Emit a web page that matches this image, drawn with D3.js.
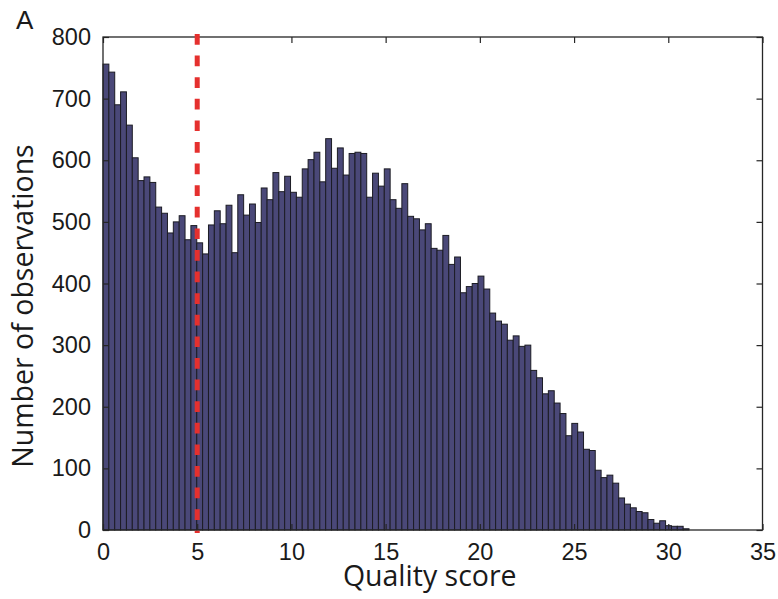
<!DOCTYPE html>
<html>
<head>
<meta charset="utf-8">
<script src="https://cdn.jsdelivr.net/npm/d3@7"></script>
<style>
  body { margin: 0; background: #fff; }
</style>
</head>
<body>
<svg id="chart" width="778" height="599"></svg>
<script>
"use strict";

(function () {
    //// data
    const binStart = 0;
    const binWidth = 0.311;
    const counts = [
        756, 743, 690, 711, 657, 604, 567, 573, 564, 524,
        514, 482, 500, 510, 471, 494, 466, 448, 495, 518,
        497, 527, 450, 544, 511, 529, 499, 555, 536, 580,
        549, 574, 548, 540, 586, 601, 613, 565, 635, 587,
        620, 576, 611, 613, 611, 540, 579, 558, 586, 536,
        522, 562, 509, 505, 487, 497, 457, 454, 478, 431,
        443, 385, 395, 400, 412, 391, 352, 339, 334, 308,
        315, 298, 300, 259, 247, 221, 226, 206, 189, 153,
        173, 159, 131, 129, 97, 85, 89, 76, 52, 42,
        36, 30, 28, 17, 11, 15, 7, 6, 6, 2
    ];
    const xTicks = [0, 5, 10, 15, 20, 25, 30, 35];
    const yTicks = [0, 100, 200, 300, 400, 500, 600, 700, 800];
    const threshold = 5;
    const panelLabel = "A";
    const xTitle = "Quality score";
    const yTitle = "Number of observations";

    const bins = counts.map(function (c, i) {
        return { x0: binStart + i * binWidth, x1: binStart + (i + 1) * binWidth, count: c };
    });

    //// layout
    const svg = d3.select("#chart");
    const left = 103, right = 762.5, top = 37, bottom = 530;
    const tickLen = 6;
    const axisColor = "#262626";

    const x = d3.scaleLinear().domain([0, 35]).range([left, right]);
    const y = d3.scaleLinear().domain([0, 800]).range([bottom, top]);

    //// bars
    svg.append("g")
        .attr("class", "bars")
        .selectAll("rect")
        .data(bins)
        .enter().append("rect")
            .attr("x", function (d) { return x(d.x0); })
            .attr("y", function (d) { return y(d.count); })
            .attr("width", function (d) { return x(d.x1) - x(d.x0); })
            .attr("height", function (d) { return y(0) - y(d.count); })
            .attr("fill", "#4a4878")
            .attr("stroke", "#1c1c24")
            .attr("stroke-width", 1);

    //// axes, matlab style: box with inward ticks on all four sides
    const styleAxis = function (g) {
        g.select(".domain").remove();
        g.selectAll(".tick line").attr("stroke", axisColor).attr("stroke-width", 1.2);
        g.selectAll(".tick text")
            .attr("fill", "#1a1a1a")
            .style("font-family", "'Liberation Sans', Arial, sans-serif")
            .style("font-size", "23.5px");
    };

    svg.append("g")
        .attr("transform", "translate(0," + bottom + ")")
        .call(d3.axisBottom(x).tickValues(xTicks).tickSize(-tickLen).tickPadding(13).tickFormat(d3.format("d")))
        .call(styleAxis);

    svg.append("g")
        .attr("transform", "translate(0," + top + ")")
        .call(d3.axisTop(x).tickValues(xTicks).tickSize(-tickLen).tickFormat(""))
        .call(styleAxis);

    svg.append("g")
        .attr("transform", "translate(" + left + ",0)")
        .call(d3.axisLeft(y).tickValues(yTicks).tickSize(-tickLen).tickPadding(12).tickFormat(d3.format("d")))
        .call(styleAxis);

    svg.append("g")
        .attr("transform", "translate(" + right + ",0)")
        .call(d3.axisRight(y).tickValues(yTicks).tickSize(-tickLen).tickFormat(""))
        .call(styleAxis);

    svg.append("rect")
        .attr("x", left).attr("y", top)
        .attr("width", right - left).attr("height", bottom - top)
        .attr("fill", "none")
        .attr("stroke", axisColor)
        .attr("stroke-width", 1.3);

    //// threshold line
    svg.append("line")
        .attr("x1", x(threshold)).attr("x2", x(threshold))
        .attr("y1", top - 3).attr("y2", bottom + 3)
        .attr("stroke", "#e5302e")
        .attr("stroke-width", 5)
        .attr("stroke-dasharray", "10.7,10.9");

    //// titles
    svg.append("text")
        .attr("x", (left + right) / 2 - 3)
        .attr("y", 586)
        .attr("text-anchor", "middle")
        .attr("fill", "#1a1a1a")
        .style("font-family", "'Open Sans', sans-serif")
        .style("font-size", "28.5px")
        .text(xTitle);

    svg.append("text")
        .attr("transform", "translate(33," + 306 + ") rotate(-90)")
        .attr("text-anchor", "middle")
        .attr("fill", "#1a1a1a")
        .style("font-family", "'Open Sans', sans-serif")
        .style("font-size", "28.5px")
        .text(yTitle);

    svg.append("text")
        .attr("x", 16)
        .attr("y", 29)
        .attr("fill", "#1a1a1a")
        .style("font-family", "'Liberation Sans', Arial, sans-serif")
        .style("font-size", "26px")
        .text(panelLabel);
})();
</script>
</body>
</html>
